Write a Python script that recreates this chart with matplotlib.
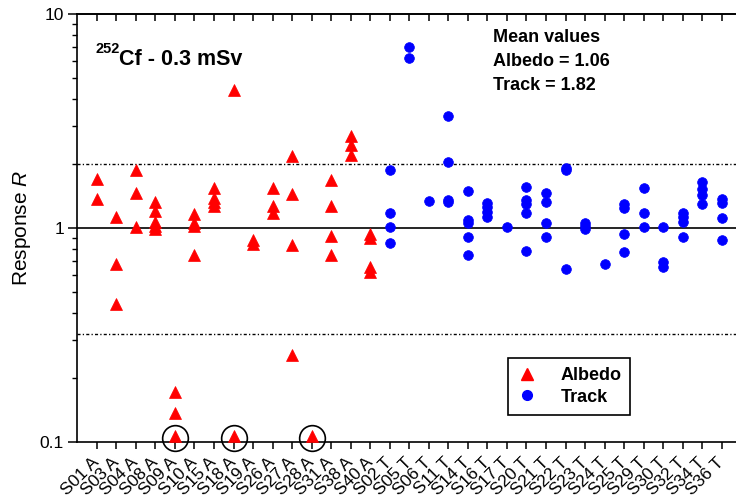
import numpy as np
import matplotlib
matplotlib.use("Agg")
import matplotlib.pyplot as plt
from matplotlib.ticker import FixedLocator, FixedFormatter, NullFormatter, LogLocator
from matplotlib.lines import Line2D

plt.rcParams['font.family'] = ['Liberation Sans', 'DejaVu Sans']
plt.rcParams['mathtext.fontset'] = 'custom'
plt.rcParams['mathtext.rm'] = 'Liberation Sans'
plt.rcParams['mathtext.it'] = 'Liberation Sans:italic'
plt.rcParams['mathtext.bf'] = 'Liberation Sans:bold'

# ---------------- data ----------------
albedo_labels = ["S01 A", "S03 A", "S04 A", "S08 A", "S09 A", "S10 A", "S15 A", "S18 A",
                 "S19 A", "S26 A", "S27 A", "S28 A", "S31 A", "S38 A", "S40 A"]
albedo_values = [
    [1.70, 1.37],
    [1.12, 0.68, 0.44],
    [1.87, 1.45, 1.01],
    [1.32, 1.20, 1.07, 1.02, 0.99],
    [0.172, 0.136, 0.107],
    [1.16, 1.05, 1.02, 0.75],
    [1.54, 1.38, 1.32, 1.27],
    [4.40, 0.107],
    [0.88, 0.84],
    [1.53, 1.27, 1.17],
    [2.18, 1.44, 0.83, 0.255],
    [0.107],
    [1.68, 1.27, 0.92, 0.75],
    [2.68, 2.45, 2.20],
    [0.94, 0.90, 0.66, 0.62],
]
track_labels = ["S02 T", "S05 T", "S06 T", "S11 T", "S14 T", "S16 T", "S17 T", "S20 T",
                "S21 T", "S22 T", "S23 T", "S24 T", "S25 T", "S29 T", "S30 T", "S32 T",
                "S34 T", "S36 T"]
track_values = [
    [1.87, 1.17, 1.01, 0.85],
    [7.0, 6.2],
    [1.34],
    [3.35, 2.03, 1.35, 1.32],
    [1.49, 1.09, 1.06, 0.91, 0.75],
    [1.31, 1.25, 1.19, 1.13],
    [1.01],
    [1.55, 1.35, 1.30, 1.17, 0.78],
    [1.45, 1.32, 1.06, 0.91],
    [1.90, 1.86, 0.64],
    [1.06, 1.02, 0.99],
    [0.68],
    [1.29, 1.24, 0.94, 0.77],
    [1.53, 1.18, 1.01],
    [1.01, 0.69, 0.66],
    [1.17, 1.12, 1.07, 0.91],
    [1.64, 1.52, 1.42, 1.30],
    [1.37, 1.31, 1.11, 0.88],
]
circled_labels = ["S09 A", "S18 A", "S28 A"]
circled_values = [0.104, 0.104, 0.104]
reference_line = 1.0
limit_lines = [2.0, 0.318]
y_ticks = [0.1, 1, 10]
y_tick_labels = ["0.1", "1", "10"]
mean_text = ["Mean values", "Albedo = 1.06", "Track = 1.82"]

# ---------------- figure ----------------
W, H = 736, 504
fig = plt.figure(figsize=(W / 100, H / 100), dpi=100)
ax = fig.add_axes([77.3 / W, 1 - 442 / H, 1 - 77.3 / W, (442 - 14) / H])

all_labels = albedo_labels + track_labels
x_all = np.arange(len(all_labels))
x_alb = x_all[:len(albedo_labels)]
x_trk = x_all[len(albedo_labels):]

ax.set_yscale('log')
ax.set_ylim(0.1, 10)
ax.set_xlim(-1, 32.73)

ax.axhline(reference_line, color='black', lw=1.2, zorder=1)
for v in limit_lines:
    ax.axhline(v, color='black', lw=1.0, dashes=(2.2, 1.6, 0.9, 1.6), zorder=1)

for xi, vals in zip(x_alb, albedo_values):
    ax.plot(np.full(len(vals), xi), vals, linestyle='none', marker='^', ms=8,
            mfc='#ff0000', mec='#ff0000', mew=0.5, zorder=3, clip_on=False)
for xi, vals in zip(x_trk, track_values):
    ax.plot(np.full(len(vals), xi), vals, linestyle='none', marker='o', ms=7,
            mfc='#0000ff', mec='#0000ff', mew=0.5, zorder=3, clip_on=False)

xc = [all_labels.index(l) for l in circled_labels]
ax.plot(xc, circled_values, linestyle='none', marker='o', ms=18.5, mfc='none',
        mec='black', mew=1.2, zorder=4, clip_on=False)

# axes styling
for s in ['left', 'bottom', 'top']:
    ax.spines[s].set_linewidth(1.2)
ax.spines['right'].set_visible(False)

ax.set_xticks(x_all)
ax.set_xticklabels(all_labels, fontsize=12.5)
ax.tick_params(axis='x', which='major', direction='out', length=5, width=1.1,
               pad=8, bottom=True, top=False)
for lab in ax.get_xticklabels():
    lab.set_rotation(45)
    lab.set_rotation_mode('anchor')
    lab.set_va('center')
    lab.set_ha('right')

sec = ax.secondary_xaxis('top')
sec.set_xticks(x_all)
sec.tick_params(axis='x', direction='in', length=5, width=1.1, labeltop=False)
sec.spines['top'].set_linewidth(1.2)

ax.yaxis.set_major_locator(FixedLocator(y_ticks))
ax.yaxis.set_major_formatter(FixedFormatter(y_tick_labels))
ax.yaxis.set_minor_locator(LogLocator(base=10, subs=np.arange(2, 10)))
ax.yaxis.set_minor_formatter(NullFormatter())
ax.tick_params(axis='y', which='major', direction='out', length=6.5, width=1.1,
               labelsize=12.5, pad=3)
ax.tick_params(axis='y', which='minor', direction='out', length=3.5, width=1.0)

fig.text(22 / W, 1 - 228 / H, "Response $R$", rotation=90, ha='center', va='center',
         fontsize=15)

# title
fig.text(95 / W, 1 - 53 / H, "252", fontsize=10.5, fontweight='bold', ha='left',
         va='baseline')
fig.text(119 / W, 1 - 65 / H, "Cf - 0.3 mSv", fontsize=15.5, fontweight='bold',
         ha='left', va='baseline')

# mean values
for i, t in enumerate(mean_text):
    fig.text(493 / W, 1 - (38 + 23.5 * i) / H, t, fontsize=13, fontweight='bold',
             ha='left', va='center')

handles = [
    Line2D([], [], linestyle='none', marker='^', ms=8, mfc='#ff0000', mec='#ff0000'),
    Line2D([], [], linestyle='none', marker='o', ms=7, mfc='#0000ff', mec='#0000ff'),
]
leg = ax.legend(handles, ["Albedo", "Track"], loc='upper left',
                bbox_to_anchor=(508 / W, 1 - 358 / H), bbox_transform=fig.transFigure,
                frameon=True, fancybox=False, framealpha=1, edgecolor='black',
                prop={'weight': 'bold', 'size': 13}, handlelength=1.1,
                handletextpad=1.3, borderpad=0.5, labelspacing=0.25,
                borderaxespad=0)
leg.get_frame().set_linewidth(1.2)

fig.savefig("out.png", dpi=100)
